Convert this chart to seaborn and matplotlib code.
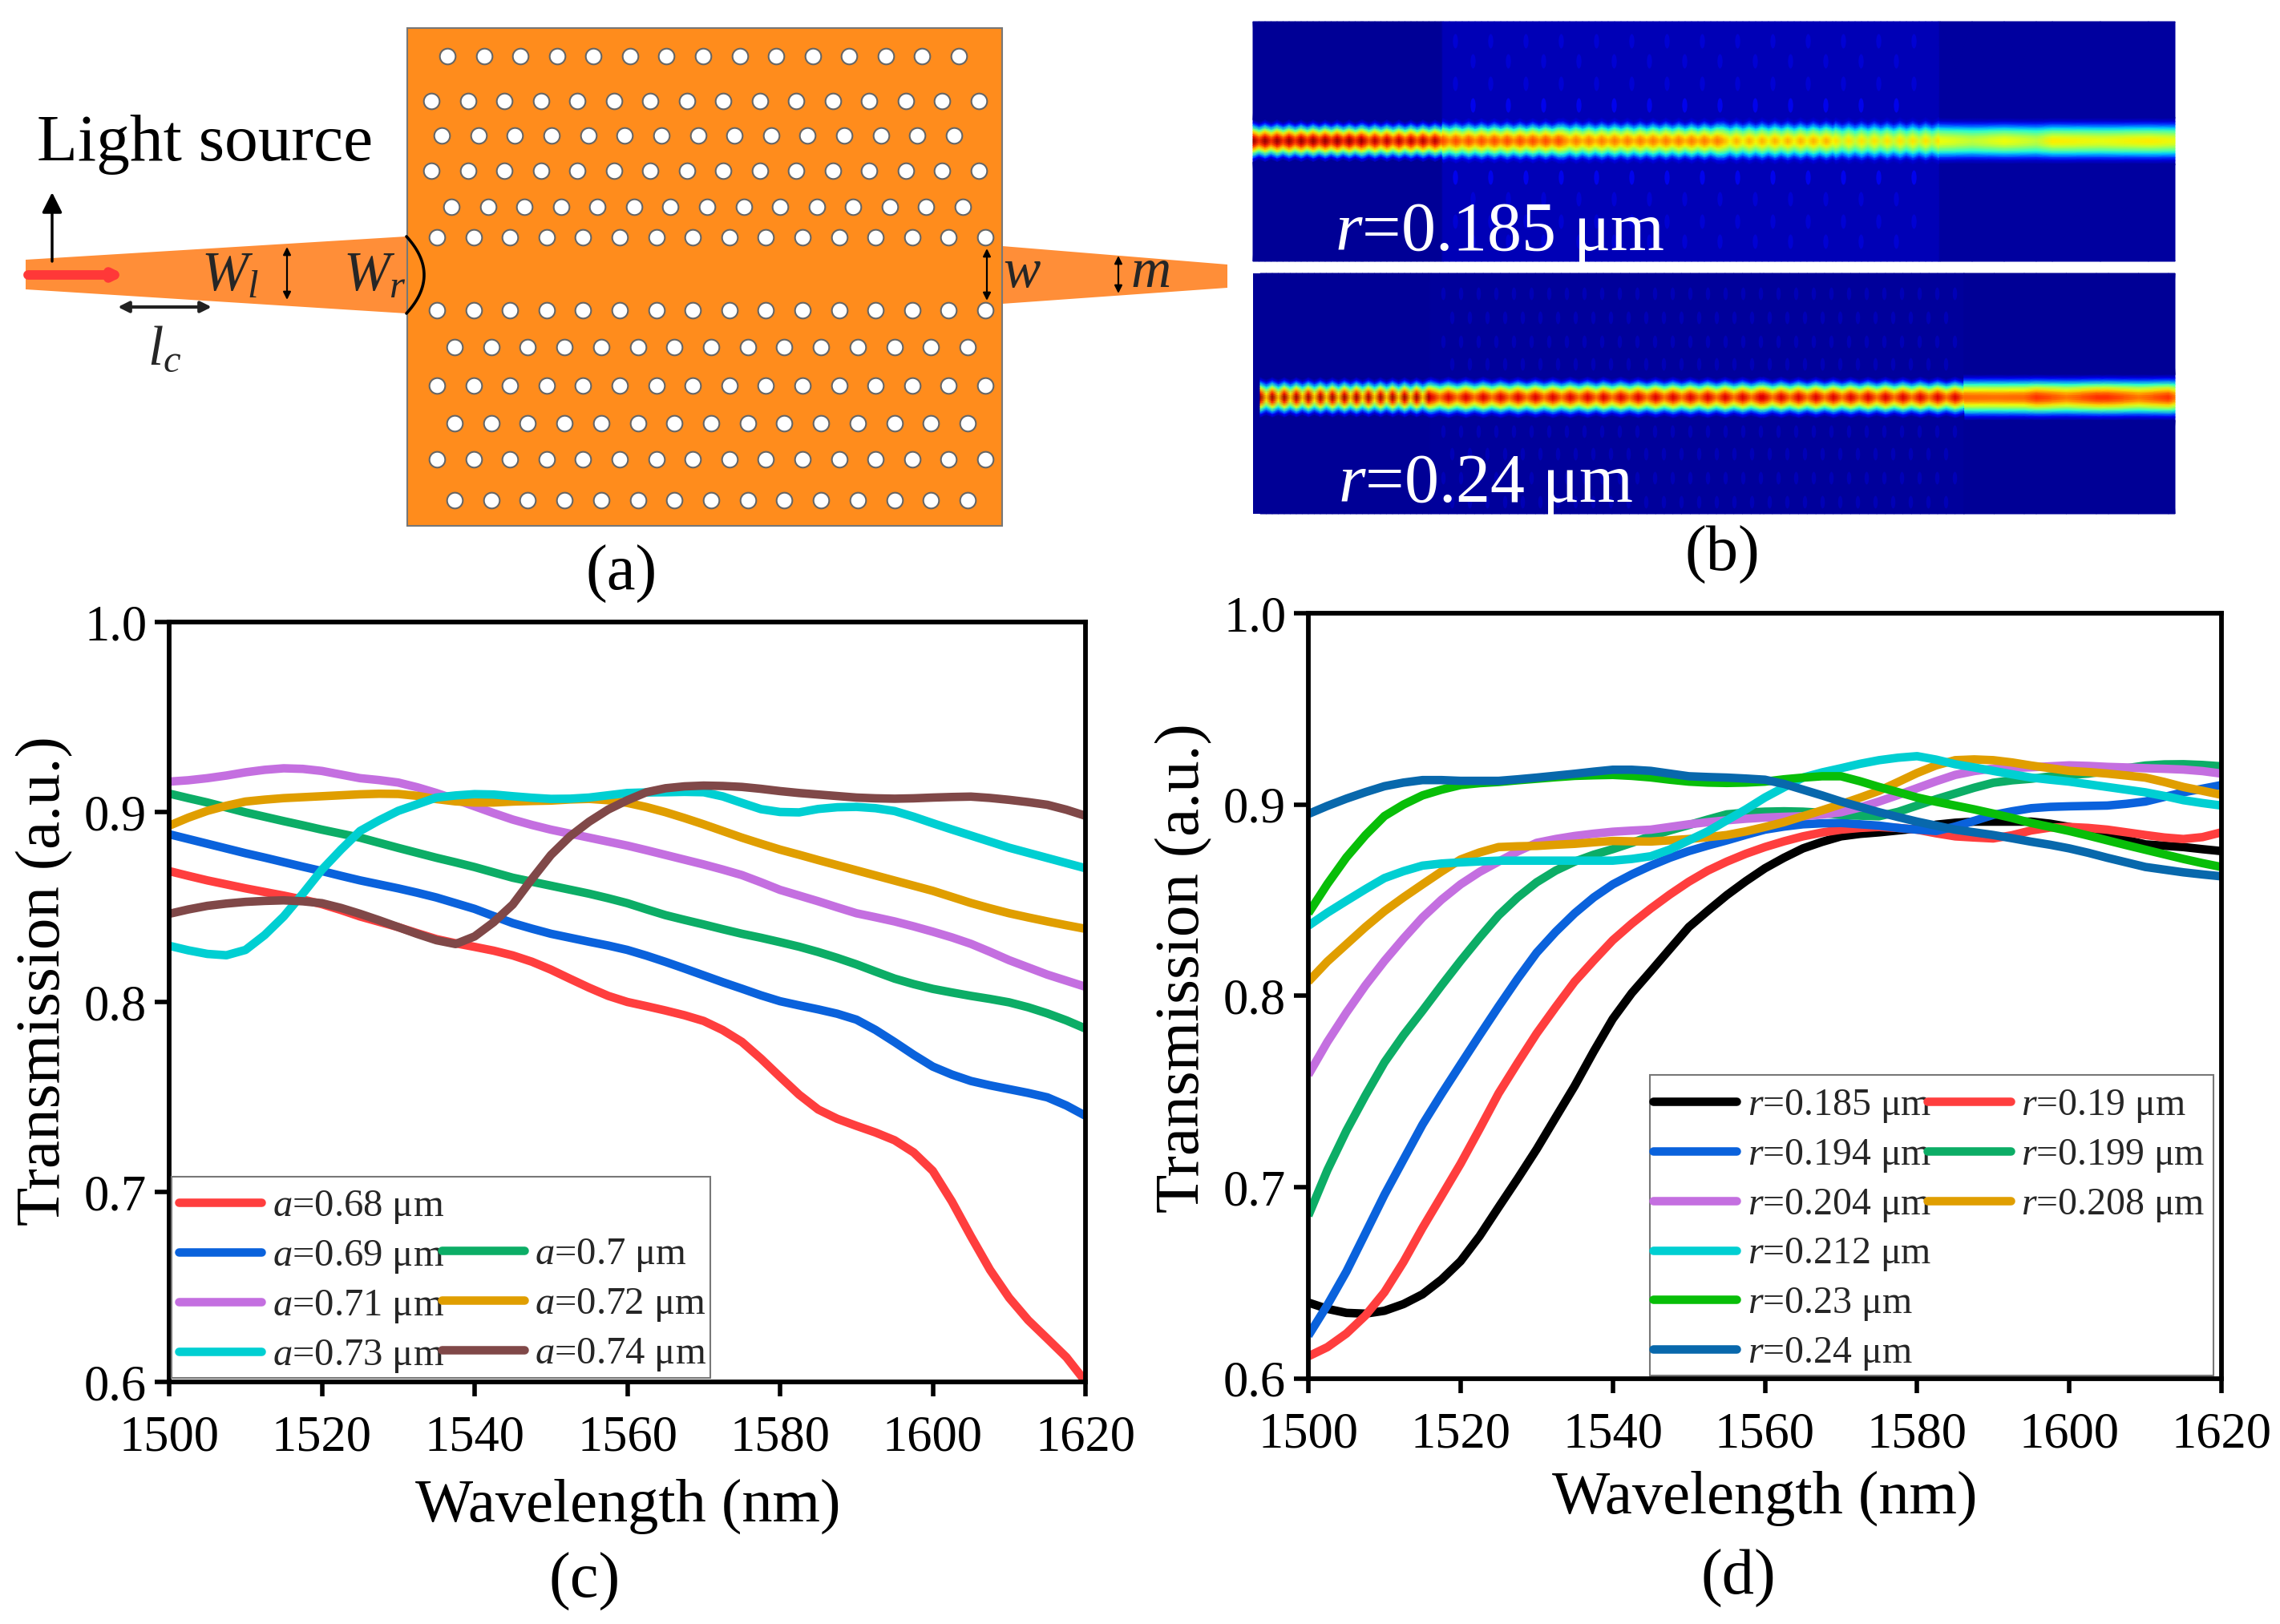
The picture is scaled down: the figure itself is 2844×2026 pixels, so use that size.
import numpy as np
import matplotlib
matplotlib.use("Agg")
import matplotlib.pyplot as plt
from matplotlib.lines import Line2D
from matplotlib.patches import Polygon, Rectangle, FancyArrowPatch
from matplotlib.path import Path
from matplotlib.transforms import Affine2D
import seaborn as sns

W, H = 2844, 2026

# ---------- data (every 2.5 nm) ----------
wavelength = [1500 + 2.5 * i for i in range(49)]

a_068 = [.8689,.8664,.8640,.8619,.8598,.8579,.8560,.8539,.8515,.8484,.8450,.8422,.8394,.8362,.8331,.8309,.8290,.8270,.8245,.8212,.8170,.8122,.8075,.8032,.8000,.7978,.7955,.7930,.7900,.7852,.7790,.7702,.7606,.7512,.7434,.7385,.7348,.7313,.7272,.7208,.7111,.6950,.6766,.6590,.6443,.6325,.6228,.6130,.6002]
a_069 = [.8883,.8858,.8833,.8808,.8783,.8760,.8736,.8712,.8689,.8664,.8640,.8619,.8598,.8575,.8550,.8520,.8490,.8452,.8415,.8386,.8359,.8338,.8317,.8297,.8274,.8244,.8211,.8176,.8140,.8104,.8070,.8035,.8004,.7982,.7961,.7938,.7907,.7853,.7789,.7722,.7660,.7618,.7584,.7561,.7541,.7521,.7498,.7455,.7401]
a_070 = [.9097,.9073,.9050,.9024,.8998,.8975,.8952,.8930,.8907,.8886,.8865,.8838,.8811,.8785,.8759,.8735,.8710,.8682,.8654,.8633,.8612,.8591,.8570,.8546,.8520,.8488,.8457,.8432,.8408,.8383,.8359,.8338,.8315,.8291,.8263,.8232,.8198,.8160,.8123,.8094,.8069,.8050,.8032,.8016,.7998,.7972,.7940,.7903,.7860]
a_071 = [.9160,.9167,.9178,.9192,.9209,.9222,.9230,.9227,.9216,.9197,.9178,.9168,.9155,.9130,.9100,.9066,.9030,.8994,.8960,.8932,.8907,.8886,.8865,.8844,.8823,.8799,.8774,.8749,.8724,.8697,.8668,.8630,.8590,.8560,.8530,.8498,.8467,.8446,.8424,.8398,.8370,.8340,.8306,.8264,.8220,.8182,.8144,.8112,.8080]
a_072 = [.8928,.8970,.9006,.9033,.9055,.9065,.9073,.9078,.9083,.9088,.9093,.9096,.9095,.9085,.9068,.9056,.9050,.9050,.9055,.9058,.9060,.9066,.9069,.9062,.9048,.9026,.8999,.8968,.8935,.8900,.8865,.8833,.8802,.8775,.8747,.8720,.8693,.8666,.8639,.8612,.8585,.8553,.8521,.8493,.8467,.8445,.8424,.8404,.8385]
a_073 = [.8296,.8272,.8253,.8246,.8274,.8352,.8450,.8570,.8696,.8802,.8900,.8956,.9006,.9041,.9076,.9087,.9094,.9092,.9083,.9075,.9069,.9070,.9076,.9088,.9100,.9103,.9104,.9106,.9104,.9082,.9048,.9015,.9000,.8998,.9016,.9025,.9027,.9020,.9005,.8975,.8941,.8908,.8876,.8844,.8812,.8785,.8758,.8731,.8704]
a_074 = [.8464,.8487,.8506,.8518,.8527,.8532,.8535,.8530,.8520,.8495,.8464,.8430,.8394,.8358,.8325,.8305,.8345,.8420,.8513,.8647,.8774,.8872,.8949,.9013,.9062,.9104,.9125,.9135,.9139,.9137,.9132,.9122,.9110,.9100,.9092,.9084,.9076,.9072,.9070,.9072,.9076,.9079,.9081,.9074,.9064,.9052,.9038,.9012,.8980]

r_0185 = [.6398,.6365,.6344,.6340,.6355,.6390,.6441,.6518,.6614,.6745,.6896,.7045,.7199,.7365,.7530,.7710,.7880,.8015,.8129,.8245,.8360,.8445,.8527,.8600,.8667,.8722,.8771,.8805,.8834,.8847,.8855,.8865,.8875,.8895,.8905,.8911,.8911,.8911,.8911,.8900,.8883,.8865,.8841,.8815,.8792,.8785,.8778,.8767,.8757]
r_0190 = [.6117,.6165,.6236,.6330,.6452,.6610,.6788,.6955,.7123,.7305,.7491,.7650,.7804,.7942,.8075,.8185,.8291,.8378,.8457,.8530,.8597,.8655,.8702,.8743,.8778,.8808,.8834,.8854,.8869,.8878,.8883,.8878,.8869,.8850,.8834,.8828,.8823,.8840,.8865,.8880,.8883,.8878,.8869,.8855,.8841,.8828,.8820,.8830,.8855]
r_0194 = [.6225,.6385,.6560,.6760,.6961,.7145,.7328,.7488,.7642,.7795,.7945,.8090,.8226,.8335,.8432,.8515,.8583,.8635,.8681,.8722,.8757,.8786,.8813,.8842,.8869,.8885,.8897,.8902,.8904,.8897,.8890,.8878,.8869,.8862,.8885,.8915,.8946,.8965,.8981,.8988,.8991,.8993,.8995,.9004,.9016,.9040,.9064,.9083,.9102]
r_0199 = [.6852,.7090,.7296,.7480,.7653,.7795,.7923,.8055,.8183,.8305,.8421,.8515,.8594,.8655,.8702,.8738,.8767,.8800,.8835,.8865,.8893,.8922,.8949,.8958,.8963,.8965,.8963,.8957,.8946,.8942,.8939,.8962,.8995,.9028,.9058,.9088,.9114,.9127,.9135,.9147,.9155,.9162,.9175,.9190,.9204,.9210,.9211,.9207,.9200]
r_0204 = [.7588,.7760,.7913,.8055,.8183,.8300,.8410,.8503,.8583,.8648,.8702,.8755,.8800,.8820,.8836,.8848,.8858,.8864,.8869,.8883,.8897,.8908,.8918,.8926,.8932,.8936,.8939,.8948,.8960,.8985,.9016,.9050,.9086,.9122,.9155,.9175,.9188,.9192,.9195,.9200,.9205,.9202,.9197,.9194,.9190,.9187,.9183,.9175,.9162]
r_0208 = [.8075,.8180,.8270,.8360,.8443,.8515,.8583,.8650,.8713,.8750,.8778,.8782,.8784,.8790,.8795,.8803,.8810,.8808,.8807,.8813,.8820,.8830,.8841,.8860,.8883,.8908,.8939,.8970,.9002,.9036,.9072,.9118,.9165,.9205,.9232,.9236,.9232,.9220,.9204,.9190,.9176,.9170,.9162,.9152,.9141,.9118,.9092,.9072,.9051]
r_0212 = [.8367,.8435,.8497,.8558,.8616,.8652,.8681,.8692,.8698,.8703,.8707,.8707,.8707,.8707,.8707,.8707,.8707,.8716,.8730,.8765,.8813,.8860,.8918,.8975,.9037,.9090,.9141,.9168,.9190,.9213,.9232,.9245,.9253,.9235,.9211,.9194,.9176,.9158,.9141,.9130,.9120,.9106,.9092,.9078,.9064,.9045,.9023,.9008,.8995]
r_0230 = [.8432,.8585,.8724,.8840,.8940,.9000,.9048,.9078,.9102,.9112,.9118,.9127,.9135,.9143,.9150,.9153,.9155,.9150,.9142,.9130,.9120,.9115,.9113,.9115,.9120,.9132,.9141,.9148,.9148,.9122,.9092,.9065,.9037,.9015,.8995,.8975,.8953,.8930,.8904,.8883,.8862,.8838,.8813,.8788,.8764,.8740,.8716,.8694,.8674]
r_0240 = [.8951,.8993,.9031,.9065,.9096,.9115,.9128,.9128,.9124,.9124,.9124,.9132,.9141,.9151,.9161,.9172,.9182,.9182,.9176,.9162,.9148,.9144,.9141,.9136,.9130,.9108,.9078,.9048,.9016,.8988,.8960,.8935,.8911,.8890,.8869,.8855,.8841,.8824,.8806,.8790,.8771,.8748,.8722,.8698,.8674,.8660,.8646,.8635,.8625]

a_labels = ["0.68", "0.69", "0.7", "0.71", "0.72", "0.73", "0.74"]
r_labels = ["0.185", "0.19", "0.194", "0.199", "0.204", "0.208", "0.212", "0.23", "0.24"]
a_series = [a_068, a_069, a_070, a_071, a_072, a_073, a_074]
r_series = [r_0185, r_0190, r_0194, r_0199, r_0204, r_0208, r_0212, r_0230, r_0240]

RED, BLUE, GREEN, PURPLE, GOLD, CYAN, BROWN = "#FF3E3E", "#0A62DC", "#0CAD66", "#C46FE0", "#E09E00", "#00CFD2", "#804848"
a_colors = [RED, BLUE, GREEN, PURPLE, GOLD, CYAN, BROWN]
r_colors = ["#000000", RED, BLUE, GREEN, PURPLE, GOLD, CYAN, "#08BE08", "#0868AC"]

# lattice rows of panel (a): y, first x, last x, holes
row_y = [70, 126, 169, 213, 258, 296, 387, 433, 481, 528, 573, 624]
row_x0 = [558, 538, 551, 538, 563, 545, 545, 567, 545, 567, 545, 567]
row_x1 = [1196, 1221, 1190, 1221, 1201, 1229, 1229, 1207, 1229, 1207, 1229, 1207]
row_n = [15, 16, 15, 16, 15, 16, 16, 15, 16, 15, 16, 15]

# field maps of panel (b), per section along the guide
top_edges = [1563, 1700, 1800, 1950, 2150, 2290, 2420, 2560, 2713]
top_pitch = [15, 15, 16, 16, 16, 16, 80, 120]
top_peak = [.98, .95, .83, .78, .72, .67, .64, .66]
top_trough = [.86, .82, .75, .71, .65, .59, .58, .63]
top_bg = [.02, .02, .05, .05, .05, .05, .03, .03]
top_scale = [1.0, 1.0, 1.08, 1.1, 1.12, 1.12, 1.15, 1.15]
bot_edges = [1572, 1785, 2000, 2200, 2450, 2540, 2630, 2713]
bot_pitch = [15, 21.7, 21.7, 21.7, 75, 75, 75]
bot_peak = [.97, .92, .92, .92, .80, .86, .86]
bot_trough = [.70, .78, .78, .78, .79, .78, .78]
bot_bg = [.02, .025, .025, .025, .02, .02, .02]
bot_scale = [.95, .98, .98, .98, 1.15, 1.15, 1.15]
offsets = [-160, -25, -21, -18, -14, -11, -8, -5, -2, 0, 2, 5, 8, 11, 14, 18, 21, 25, 160]
profile = [0, 0, .12, .28, .50, .68, .80, .92, .99, 1, .99, .92, .80, .68, .50, .28, .12, 0, 0]

top_lobe_rows = [-125, -100, -72, -45, 45, 72, 100, 125]
bot_lobe_rows = [-130, -100, -70, -42, 42, 70, 100, 130]

# ---------- style ----------
sns.set_style("ticks")
plt.rcParams["font.family"] = ["Liberation Serif", "DejaVu Sans"]
plt.rcParams["mathtext.fontset"] = "custom"
plt.rcParams["mathtext.it"] = "Liberation Serif:italic"
plt.rcParams["mathtext.rm"] = "Liberation Serif"
plt.rcParams["mathtext.default"] = "regular"

fig = plt.figure(figsize=(W / 100, H / 100), dpi=100, facecolor="white")
art = fig.add_axes([0, 0, 1, 1], zorder=0)
art.set_xlim(0, W)
art.set_ylim(H, 0)
art.axis("off")

# ---------- panel (a) ----------
ORANGE = "#FF8C1C"
art.add_patch(Polygon([(32, 324), (507, 295), (507, 391), (32, 361)], fc="#FF8E38", ec="none"))
art.add_patch(Polygon([(1250, 307), (1531, 330), (1531, 359), (1250, 379)], fc="#FF8E38", ec="none"))
art.add_patch(Rectangle((508, 35), 742, 621, fc=ORANGE, ec="#777777", lw=1.5))
for y, x0, x1, n in zip(row_y, row_x0, row_x1, row_n):
    xs = np.linspace(x0, x1, n)
    art.scatter(xs, np.full(n, y), s=200, c="white", edgecolors="#666666", linewidths=1.5, zorder=3)


def arrow(p, q, style, lw, color="black", ms=22):
    art.add_patch(FancyArrowPatch(p, q, arrowstyle=style, mutation_scale=ms, lw=lw, color=color,
                                  shrinkA=0, shrinkB=0, zorder=4))


arrow((65, 326), (65, 240), "-|>", 2.5, ms=38)
arrow((35, 343), (156, 343), "-|>", 8.5, "#FF3838", ms=14)
arrow((147, 383), (264, 383), "<|-|>", 3, "#222222", ms=20)
arrow((358, 308), (358, 374), "<|-|>", 1.6, ms=14)
arrow((1231, 310), (1231, 375), "<|-|>", 1.6, ms=14)
arrow((1395, 319), (1395, 366), "<|-|>", 1.6, ms=14)
t = np.linspace(-1, 1, 30)
art.plot(507 + 22 * (1 - t ** 2), 343 + 48 * t, color="black", lw=2.6, zorder=4)

art.text(46, 200, "Light source", fontsize=60, ha="left", va="baseline", color="black")
art.text(251, 362, r"$\mathit{W_l}$", fontsize=50, va="baseline", zorder=5)
art.text(428, 362, r"$\mathit{W_r}$", fontsize=50, va="baseline", zorder=5)
art.text(184, 454, r"$\mathit{l_c}$", fontsize=50, va="baseline", zorder=5)
art.text(1251, 358, r"$\mathit{w}$", fontsize=50, va="baseline", zorder=5)
art.text(1410, 358, r"$\mathit{m}$", fontsize=50, va="baseline", zorder=5)

# ---------- panel (b) ----------
lobe_marker = Path.unit_circle().transformed(Affine2D().scale(0.35, 1.0))


def field(edges, pitch, peak, trough, bg, scale, centre, y0, y1):
    xs, amp, base, wid = [edges[0]], [0.0], [bg[0]], [scale[0]]
    for i, p in enumerate(pitch):
        stations = np.arange(edges[i], edges[i + 1], p / 2)
        for k, x in enumerate(stations):
            xs.append(x)
            amp.append(peak[i] if k % 2 == 0 else trough[i])
            base.append(bg[i])
            ripple = (1.07 if k % 2 == 0 else 0.95) if p < 30 else 1.0
            wid.append(scale[i] * ripple)
    xs.append(edges[-1]); amp.append(trough[-1]); base.append(bg[-1]); wid.append(scale[-1])
    xs, amp, base, wid = map(np.array, (xs, amp, base, wid))
    prof = np.array(profile)
    off = np.array(offsets, float)
    C = np.maximum(np.outer(prof, amp), base[None, :] * np.ones((len(prof), 1)))
    X = np.tile(xs, (len(off), 1)).astype(float)
    Y = centre + np.outer(off, wid)
    Y[0, :], Y[-1, :] = y0, y1
    art.pcolormesh(X, Y, C, shading="gouraud", cmap="jet", vmin=0, vmax=1, zorder=1)


art.add_patch(Rectangle((1563, 27), 1150, 299, fc=plt.cm.jet(0.02), ec="none", zorder=0.5))
art.add_patch(Rectangle((1563, 341), 1149, 300, fc=plt.cm.jet(0.02), ec="none", zorder=0.5))
field(top_edges, top_pitch, top_peak, top_trough, top_bg, top_scale, 176, 27, 326)
field(bot_edges, bot_pitch, bot_peak, bot_trough, bot_bg, bot_scale, 496, 341, 641)
for i, dy in enumerate(top_lobe_rows):
    xs = np.arange(1815 + 22 * (i % 2), 2400, 44)
    art.scatter(xs, np.full(len(xs), 176 + dy), marker=lobe_marker, s=170, color=plt.cm.jet(0.13),
                alpha=0.75 if abs(dy) < 60 else 0.4, linewidths=0, zorder=2)
for i, dy in enumerate(bot_lobe_rows):
    xs = np.arange(1800 + 11 * (i % 2), 2440, 22)
    art.scatter(xs, np.full(len(xs), 496 + dy), marker=lobe_marker, s=130, color=plt.cm.jet(0.07),
                alpha=0.55, linewidths=0, zorder=2)
art.text(1665, 312, r"$\mathit{r}$=0.185 μm", fontsize=62, color="white", va="baseline", zorder=5)
art.text(1669, 626, r"$\mathit{r}$=0.24 μm", fontsize=62, color="white", va="baseline", zorder=5)

# ---------- captions ----------
for s, x, y in [("(a)", 775, 716), ("(b)", 2148, 692), ("(c)", 729, 1973), ("(d)", 2168, 1969)]:
    art.text(x, y, s, fontsize=58, ha="center", va="center", color="black")


# ---------- line panels ----------
def panel(box, series, labels, colors, sym, order, frame, anchor, hlen, cspace, legsize, xlabel_xy, ylabel_xy):
    l, t_, r, b = box
    ax = fig.add_axes([l / W, 1 - b / H, (r - l) / W, (b - t_) / H], zorder=2)
    ax.patch.set_alpha(0)
    handles = {}
    for vals, lab, col in zip(series, labels, colors):
        sns.lineplot(x=wavelength, y=vals, color=col, linewidth=7.6, ax=ax, legend=False,
                     errorbar=None, solid_capstyle="butt", solid_joinstyle="round")
        handles[lab] = (Line2D([], [], color=col, lw=7.6, solid_capstyle="round"),
                        rf"$\mathit{{{sym}}}$={lab} μm")
    ax.set_xlim(1500, 1620)
    ax.set_ylim(0.6, 1.0)
    ax.set_xticks(range(1500, 1621, 20))
    ax.set_yticks([.6, .7, .8, .9, 1.0])
    ax.set_yticklabels(["0.6", "0.7", "0.8", "0.9", "1.0"])
    ax.tick_params(length=13, width=4, labelsize=45, color="black", labelcolor="black")
    ax.tick_params(axis="x", pad=17)
    ax.tick_params(axis="y", pad=7)
    for s in ax.spines.values():
        s.set_linewidth(4.2)
        s.set_color("black")
        s.set_visible(True)
    ax.set_xlabel("Wavelength (nm)", fontsize=55, ha="center", va="center", color="black")
    ax.set_ylabel("Transmission (a.u.)", fontsize=57, ha="center", va="center", color="black")
    ax.xaxis.set_label_coords(*xlabel_xy, transform=art.transData)
    ax.yaxis.set_label_coords(*ylabel_xy, transform=art.transData)
    x0, y0, x1, y1 = frame
    ax.add_patch(Rectangle((x0, y0), x1 - x0, y1 - y0, transform=art.transData, fc="white",
                           ec="#777777", lw=1.5, zorder=4))
    hs, ls = [], []
    for item in order:
        if item is None:
            hs.append(Line2D([], [], color="none")); ls.append("")
        else:
            hs.append(handles[item][0]); ls.append(handles[item][1])
    ax.legend(hs, ls, ncol=2, loc="lower left", bbox_to_anchor=anchor, bbox_transform=art.transData,
              borderaxespad=0, fontsize=legsize, frameon=False, handlelength=hlen, handletextpad=0.28,
              columnspacing=cspace, labelspacing=0.33, borderpad=0)
    return ax


panel((211, 776, 1354, 1724), a_series, a_labels, a_colors, "a",
      ["0.68", "0.69", "0.71", "0.73", None, "0.7", "0.72", "0.74"],
      (214, 1468, 886, 1719), (223, 1715), 2.12, -0.06, 35, (783, 1879), (56, 1224))
panel((1632, 765, 2771, 1720), r_series, r_labels, r_colors, "r",
      ["0.185", "0.194", "0.204", "0.212", "0.23", "0.24", "0.19", "0.199", "0.208", None, None, None],
      (2058, 1341, 2761, 1716), (2062, 1712), 2.18, -0.12, 34.5, (2201, 1869), (1477, 1208))

fig.savefig("out.png", dpi=100, facecolor="white")
